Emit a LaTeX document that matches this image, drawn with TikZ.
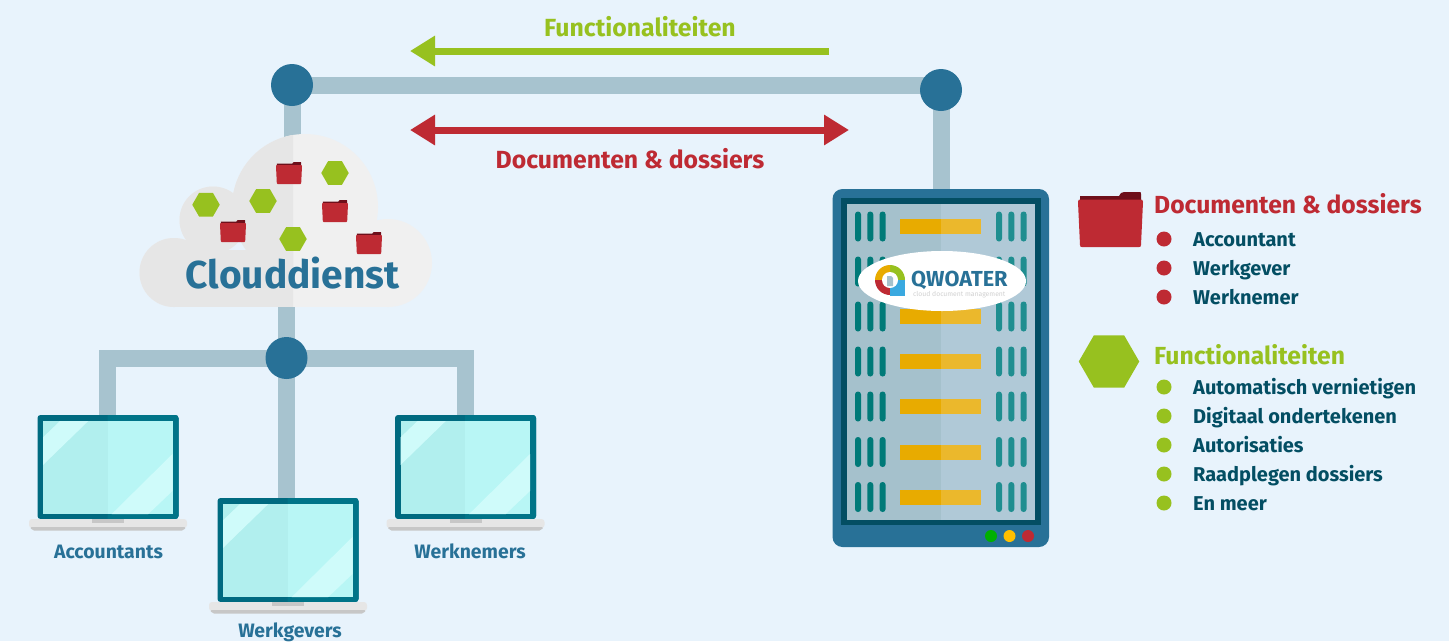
\documentclass[tikz,border=0pt]{standalone}
\usepackage{fontspec}
\setmainfont{Fira Sans}
\usetikzlibrary{arrows.meta,shapes.geometric}
\definecolor{bgc}{HTML}{E8F3FC}
\definecolor{pipec}{HTML}{A7C3CF}
\definecolor{bluec}{HTML}{287197}
\definecolor{navyc}{HTML}{034E63}
\definecolor{redc}{HTML}{BE2A33}
\definecolor{darkredc}{HTML}{6E0F1A}
\definecolor{greenc}{HTML}{97C11F}
\definecolor{skyc}{HTML}{3AA9E0}
\definecolor{barl}{HTML}{E8AB00}
\definecolor{barr}{HTML}{EBB82C}
\definecolor{ventl}{HTML}{007A78}
\definecolor{ventr}{HTML}{1F8E90}
\definecolor{panell}{HTML}{A5C1CC}
\definecolor{panelr}{HTML}{B0C9D7}
\definecolor{framel}{HTML}{006A80}
\definecolor{framer}{HTML}{007488}
\definecolor{screenl}{HTML}{B1EFEE}
\definecolor{screenr}{HTML}{B8F6F5}
\definecolor{glarec}{HTML}{CFFBFA}
\definecolor{cloudl}{HTML}{E6E6E6}
\definecolor{cloudr}{HTML}{F0F0F0}
\tikzset{
  pipe/.style={draw=pipec,line width=17pt},
  hub/.style={circle,fill=bluec,minimum size=42pt,inner sep=0pt},
  hexa/.style={regular polygon,regular polygon sides=6,fill=greenc,inner sep=0pt,minimum size=27.5pt},
  bigarrow/.style={line width=7pt},
  titletxt/.style={anchor=base,inner sep=0pt,font=\fontsize{24.8}{28}\selectfont\bfseries},
  legtitle/.style={anchor=base west,inner sep=0pt,font=\fontsize{24.7}{28}\selectfont\bfseries},
  legitem/.style={anchor=base west,inner sep=0pt,text=navyc,font=\fontsize{20}{24}\selectfont\bfseries},
  laptxt/.style={anchor=base,inner sep=0pt,text=bluec,font=\fontsize{19.4}{22}\selectfont\bfseries},
  bul/.style={circle,inner sep=0pt,minimum size=15pt},
  led/.style={circle,inner sep=0pt,minimum size=12pt},
  folderpic/.pic={
    \fill[darkredc] (2,6) -- (2,4) -- (41,4) -- (43,1) .. controls (44,0) and (45,0) .. (46,0) -- (62,0) .. controls (63,0) and (63,1) .. (63,2) -- (63,10) -- (2,10) -- cycle;
    \fill[redc] (0,10) .. controls (0,8) and (1,7.5) .. (2,7.5) -- (63,7.5) .. controls (64,7.5) and (65,8) .. (65,10) -- (63,53) .. controls (63,55) and (62,55) .. (61,55) -- (4,55) .. controls (3,55) and (2,55) .. (2,53) -- cycle;
  },
  laptoppic/.pic={
    \fill[framel,rounded corners=3pt] (0,0) rectangle (141,104);
    \begin{scope}
      \clip (70,0) rectangle (141,104);
      \fill[framer,rounded corners=3pt] (0,0) rectangle (141,104);
    \end{scope}
    \fill[screenl] (5.5,6) rectangle (70,99);
    \fill[screenr] (70,6) rectangle (135,99);
    \fill[glarec] (22.5,6) -- (50.8,6) -- (5.5,50) -- (5.5,22.3) -- cycle;
    \fill[glarec] (135,39) -- (74.2,99) -- (110.8,99) -- (135,76) -- cycle;
    \fill[cloudl,rounded corners=3pt] (-8.5,104) rectangle (149.5,113);
    \fill[black!22,rounded corners=2pt] (-7.5,112) -- (148.5,112) -- (146.5,115.5) -- (-5.5,115.5) -- cycle;
    \fill[black!22] (54.5,104) rectangle (86.5,108);
  },
  ventgroup/.pic={
    \foreach \vx in {0,12.3,24.6}{
      \fill[ventl,rounded corners=2.9pt] (\vx-3,-15) rectangle (\vx+3,15);
    }
    \foreach \vx in {141,153.3,165.6}{
      \fill[ventr,rounded corners=2.9pt] (\vx-3,-15) rectangle (\vx+3,15);
    }
    \fill[barl] (42,-7.5) rectangle (82.5,7.5);
    \fill[barr] (82.5,-7.5) rectangle (123,7.5);
  }
}
\begin{document}
\begin{tikzpicture}[x=1pt,y=-1pt]
\useasboundingbox (0,0) rectangle (1449,641);
\fill[bgc] (0,0) rectangle (1449,641);

% named anchors
\coordinate (cloudtop) at (292,150);
\coordinate (cloudbot) at (286.5,300);
\coordinate (srvtop) at (941,195);
\coordinate (lapA) at (107.5,420);
\coordinate (lapB) at (286.5,505);
\coordinate (lapC) at (465.5,420);
\coordinate (topL) at (292,85.5);
\coordinate (topR) at (941,85.5);

% connectors
\draw[pipe] (topL) -- (topR);
\draw[pipe] (topL) -- (cloudtop);
\draw[pipe] (topR) -- (srvtop);
\draw[pipe] (cloudbot) -- (lapB);
\draw[pipe,line join=miter] (lapA) -- (107.5,358.5) -- (465.5,358.5) -- (lapC);

% cloud
\fill[cloudr] (174,272.5) circle (34.5) (213,220) circle (33.5) (305,207) circle (73) (388,263) circle (44);
\fill[cloudr] (174,250) rectangle (388,307);
\begin{scope}
  \clip (130,120) rectangle (293,320);
  \fill[cloudl] (174,272.5) circle (34.5) (213,220) circle (33.5) (305,207) circle (73) (388,263) circle (44);
  \fill[cloudl] (174,250) rectangle (388,307);
\end{scope}

% hubs
\node[hub] (hubL) at (292,85) {};
\node[hub] (hubR) at (941,90) {};
\node[hub] (hubB) at (286.5,358) {};

% cloud content
\pic[scale=0.4,transform shape] at (220,220) {folderpic};
\pic[scale=0.4,transform shape] at (276,162) {folderpic};
\pic[scale=0.4,transform shape] at (322,200) {folderpic};
\pic[scale=0.4,transform shape] at (356,232) {folderpic};
\node[hexa] (hx1) at (206,204.7) {};
\node[hexa] (hx2) at (263,201) {};
\node[hexa] (hx3) at (335,173) {};
\node[hexa] (hx4) at (293,239) {};
\node[anchor=base,inner sep=0pt,text=bluec,font=\fontsize{38.9}{42}\selectfont\bfseries] (cloudlabel) at (292.5,288) {Clouddienst};

% top arrows
\coordinate (gs) at (829,51);
\coordinate (ge) at (410,51);
\coordinate (rs) at (410,130);
\coordinate (re) at (849,130);
\draw[bigarrow,draw=greenc,-{Triangle[length=25pt,width=29pt]}] (gs) -- (ge);
\draw[bigarrow,draw=redc,{Triangle[length=25pt,width=29pt]}-{Triangle[length=25pt,width=29pt]}] (rs) -- (re);
\node[titletxt,text=greenc] (tfunc) at (640,36) {Functionaliteiten};
\node[titletxt,text=redc] (tdoc) at (630,168) {Documenten \& dossiers};

% server
\fill[bluec,rounded corners=10pt] (832.5,189) rectangle (1049,547);
\fill[navyc] (841,198) rectangle (1041,525);
\fill[panell] (847,204) rectangle (941,520);
\fill[panelr] (941,204) rectangle (1035,520);
\foreach \ry in {226.5,271.5,316.5,361.5,406.5,452,497}{
  \pic at (858,\ry) {ventgroup};
}
\node[ellipse,fill=white,minimum width=168pt,minimum height=60pt,inner sep=0pt] (oval) at (942,281) {};
% logo
\fill[greenc] (890,280) -- (890,265) arc[start angle=-90,end angle=0,radius=15] -- cycle;
\fill[barl] (890,280) -- (875,280) arc[start angle=180,end angle=270,radius=15] -- cycle;
\fill[redc] (890,280) -- (890,295) arc[start angle=90,end angle=180,radius=15] -- cycle;
\fill[skyc] (890,280) rectangle (905,296);
\fill[white] (890,280) circle (8);
\fill[panell] (887,276) -- (891,276) -- (893,278) -- (893,286) -- (887,286) -- cycle;
\node[anchor=base west,inner sep=0pt,text=bluec,font=\fontsize{21.7}{24}\selectfont\bfseries] (qw) at (911,286.5) {QWOATER};
\node[anchor=base west,inner sep=0pt,text=black!18,font=\fontsize{6.8}{8}\selectfont] (qs) at (913,296) {cloud document management};
\node[led,fill={rgb,255:red,0;green,176;blue,0}] (l1) at (991,536) {};
\node[led,fill={rgb,255:red,255;green,192;blue,0}] (l2) at (1009.5,536) {};
\node[led,fill=redc] (l3) at (1028,536) {};

% laptops
\pic at (37.5,415) {laptoppic};
\pic at (217.5,498) {laptoppic};
\pic at (395,415) {laptoppic};
\node[laptxt] (ta) at (108.5,558.5) {Accountants};
\node[laptxt] (tb) at (290,637.5) {Werkgevers};
\node[laptxt] (tc) at (470,558.5) {Werknemers};

% legend
\pic at (1078,192) {folderpic};
\node[regular polygon,regular polygon sides=6,fill=greenc,inner sep=0pt,minimum size=60.5pt] (bighex) at (1109,361.5) {};
\node[legtitle,text=redc] (lt1) at (1154,213) {Documenten \& dossiers};
\node[bul,fill=redc] (b1) at (1164,239) {};
\node[bul,fill=redc] (b2) at (1164,268) {};
\node[bul,fill=redc] (b3) at (1164,297) {};
\node[legitem] (i1) at (1193,246) {Accountant};
\node[legitem] (i2) at (1193,275) {Werkgever};
\node[legitem] (i3) at (1193,304) {Werknemer};
\node[legtitle,text=greenc] (lt2) at (1154,364) {Functionaliteiten};
\node[bul,fill=greenc] (b4) at (1164,387) {};
\node[bul,fill=greenc] (b5) at (1164,416) {};
\node[bul,fill=greenc] (b6) at (1164,445) {};
\node[bul,fill=greenc] (b7) at (1164,474) {};
\node[bul,fill=greenc] (b8) at (1164,503) {};
\node[legitem] (i4) at (1193,394.5) {Automatisch vernietigen};
\node[legitem] (i5) at (1193,423.5) {Digitaal ondertekenen};
\node[legitem] (i6) at (1193,452.5) {Autorisaties};
\node[legitem] (i7) at (1193,481.5) {Raadplegen dossiers};
\node[legitem] (i8) at (1193,510.5) {En meer};
\end{tikzpicture}
\end{document}
